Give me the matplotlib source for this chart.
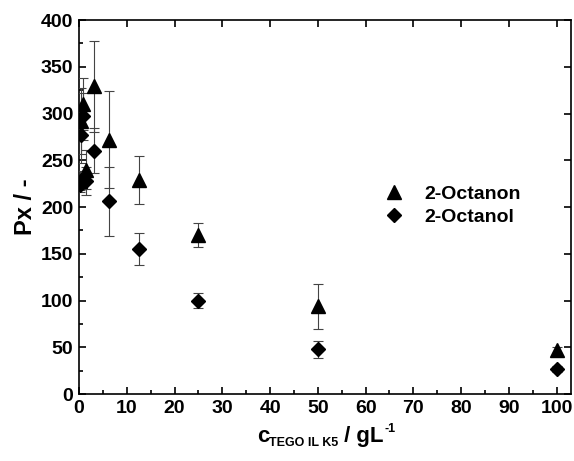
import matplotlib
matplotlib.use('Agg')
import matplotlib.pyplot as plt
from matplotlib.ticker import MultipleLocator

plt.rcParams['font.family'] = 'Liberation Sans'
plt.rcParams['font.weight'] = 'bold'

# concentration of TEGO IL K5 in g/L
conc = [0.195, 0.39, 0.78, 1.5625, 3.125, 6.25, 12.5, 25, 50, 100]

# partition coefficients
octanon = [228, 292, 310, 240, 329, 272, 229, 170, 94, 47]
octanon_err = [10, 35, 28, 21, 49, 52, 26, 13, 24, 3]
octanol = [224, 277, 297, 228, 260, 206, 155, 100, 48, 27]
octanol_err = [8, 30, 25, 15, 24, 37, 17, 8, 9, 3]


def xlabel_parts(fig, parts, xcenter, ybase):
    # draw label piece by piece: (text, size, baseline offset in px)
    W, H = fig.bbox.width, fig.bbox.height
    r = fig.canvas.get_renderer()
    texts = []
    x = 0.0
    for s, size, dy in parts:
        t = fig.text(x / W, (ybase + dy) / H, s, fontsize=size,
                     fontweight='bold', va='baseline', ha='left')
        w = t.get_window_extent(r).width
        texts.append((t, x, dy))
        x += w
    x0 = xcenter - x / 2
    for t, xx, dy in texts:
        t.set_x((x0 + xx) / W)


def main():
    fig = plt.figure(figsize=(5.74, 4.61), dpi=100)
    ax = fig.add_axes([0.1376, 0.1453, 0.8572, 0.8113])

    ax.errorbar(conc, octanon, yerr=octanon_err, fmt='^', color='black',
                ms=9.5, ecolor='#444444', elinewidth=0.8, capsize=3.5,
                capthick=0.8, label='2-Octanon', zorder=3)
    ax.errorbar(conc, octanol, yerr=octanol_err, fmt='D', color='black',
                ms=7, ecolor='#444444', elinewidth=0.8, capsize=3.5,
                capthick=0.8, label='2-Octanol', zorder=3)

    ax.set_xlim(0, 103)
    ax.set_ylim(0, 400)
    ax.xaxis.set_major_locator(MultipleLocator(10))
    ax.xaxis.set_minor_locator(MultipleLocator(5))
    ax.yaxis.set_major_locator(MultipleLocator(50))
    ax.yaxis.set_minor_locator(MultipleLocator(25))
    ax.tick_params(which='major', direction='in', length=5, width=1.2,
                   top=True, right=True, labelsize=14, pad=4)
    ax.tick_params(which='minor', direction='in', length=3, width=1.2,
                   top=False, right=False)
    for sp in ax.spines.values():
        sp.set_linewidth(1.2)

    ax.set_ylabel('Px / -', fontsize=17, fontweight='bold', labelpad=3)

    # x label with small subscript / superscript
    xlabel_parts(fig, [('c', 16, 0), ('TEGO IL K5', 9, -4),
                       (' / gL', 16, 0), ('-1', 9, 10)],
                 xcenter=326, ybase=461 - 442)

    handles, labels = ax.get_legend_handles_labels()
    handles = [h[0] for h in handles]
    ax.legend(handles, labels, loc='upper left',
              bbox_to_anchor=(0.575, 0.605), frameon=False,
              prop={'size': 14, 'weight': 'bold'}, handletextpad=0.8,
              labelspacing=0.3, handlelength=1.5)

    fig.savefig('out.png', dpi=100)


if __name__ == "__main__":
    main()
